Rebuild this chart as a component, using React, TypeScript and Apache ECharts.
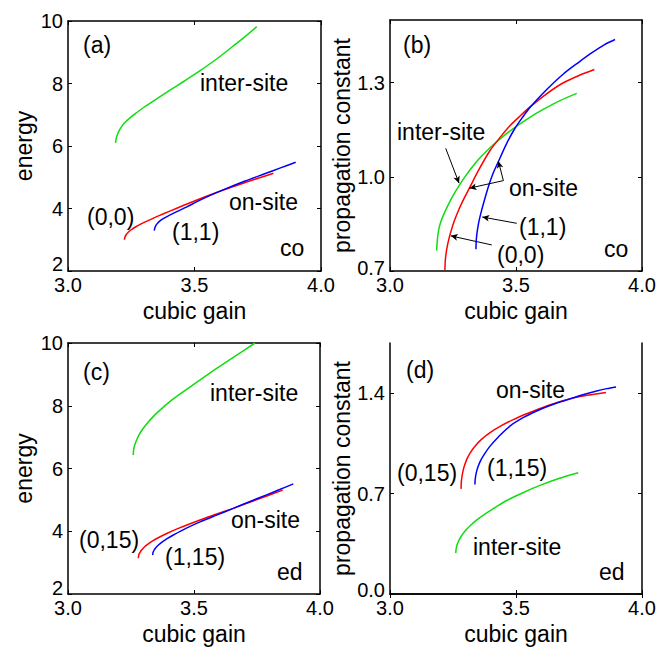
import React, { useEffect, useRef } from "react";
import * as echarts from "echarts";

// ---- Panel (a): energy vs cubic gain, "co"
const aInterGain = [3.188, 3.19, 3.195, 3.202, 3.212, 3.225, 3.245, 3.27, 3.3, 3.34, 3.4, 3.46, 3.522, 3.59, 3.653, 3.7, 3.746];
const aInterEnergy = [6.1, 6.22, 6.36, 6.49, 6.62, 6.75, 6.9, 7.06, 7.24, 7.45, 7.77, 8.08, 8.41, 8.8, 9.2, 9.5, 9.82];
const a00Gain = [3.223, 3.225, 3.23, 3.238, 3.25, 3.265, 3.285, 3.31, 3.34, 3.38, 3.43, 3.49, 3.55, 3.62, 3.7, 3.76, 3.812];
const a00Energy = [3.0, 3.08, 3.16, 3.24, 3.32, 3.4, 3.49, 3.59, 3.7, 3.84, 4.01, 4.21, 4.4, 4.61, 4.83, 4.99, 5.13];
const a11Gain = [3.341, 3.343, 3.347, 3.354, 3.365, 3.38, 3.4, 3.43, 3.47, 3.51, 3.56, 3.62, 3.7, 3.78, 3.84, 3.9];
const a11Energy = [3.29, 3.37, 3.45, 3.53, 3.61, 3.69, 3.78, 3.9, 4.05, 4.22, 4.41, 4.62, 4.88, 5.12, 5.3, 5.48];

// ---- Panel (b): propagation constant vs cubic gain, "co"
const bInterGain = [3.185, 3.188, 3.193, 3.2, 3.212, 3.228, 3.248, 3.271, 3.3, 3.331, 3.36, 3.397, 3.45, 3.503, 3.555, 3.608, 3.675, 3.741];
const bInterProp = [0.765, 0.8, 0.83, 0.853, 0.878, 0.906, 0.937, 0.968, 1.003, 1.036, 1.063, 1.093, 1.13, 1.162, 1.19, 1.215, 1.243, 1.266];
const b00Gain = [3.218, 3.219, 3.221, 3.225, 3.231, 3.241, 3.255, 3.275, 3.295, 3.315, 3.35, 3.397, 3.44, 3.476, 3.516, 3.556, 3.62, 3.688, 3.75, 3.811];
const b00Prop = [0.703, 0.728, 0.746, 0.769, 0.793, 0.824, 0.859, 0.899, 0.933, 0.964, 1.019, 1.084, 1.129, 1.163, 1.194, 1.223, 1.264, 1.3, 1.323, 1.342];
const b11Gain = [3.341, 3.342, 3.344, 3.348, 3.354, 3.364, 3.378, 3.39, 3.41, 3.437, 3.465, 3.496, 3.526, 3.556, 3.62, 3.688, 3.75, 3.8, 3.85, 3.893];
const b11Prop = [0.769, 0.794, 0.813, 0.836, 0.862, 0.895, 0.935, 0.968, 1.013, 1.061, 1.11, 1.155, 1.19, 1.222, 1.277, 1.328, 1.366, 1.395, 1.421, 1.438];

// ---- Panel (c): energy vs cubic gain, "ed"
const cInterGain = [3.259, 3.26, 3.262, 3.266, 3.272, 3.282, 3.296, 3.316, 3.34, 3.365, 3.41, 3.458, 3.52, 3.59, 3.665, 3.742];
const cInterEnergy = [6.43, 6.56, 6.66, 6.77, 6.9, 7.07, 7.25, 7.46, 7.67, 7.86, 8.17, 8.45, 8.8, 9.19, 9.59, 10.0];
const c015Gain = [3.279, 3.28, 3.282, 3.286, 3.292, 3.302, 3.316, 3.336, 3.36, 3.392, 3.44, 3.524, 3.59, 3.656, 3.75, 3.852];
const c015Energy = [3.14, 3.21, 3.27, 3.33, 3.4, 3.49, 3.58, 3.69, 3.8, 3.93, 4.1, 4.36, 4.55, 4.73, 5.01, 5.31];
const c115Gain = [3.336, 3.337, 3.339, 3.343, 3.349, 3.359, 3.373, 3.393, 3.418, 3.47, 3.524, 3.59, 3.656, 3.72, 3.788, 3.84, 3.894];
const c115Energy = [3.24, 3.31, 3.355, 3.415, 3.48, 3.56, 3.655, 3.765, 3.88, 4.1, 4.3, 4.515, 4.73, 4.94, 5.16, 5.33, 5.51];

// ---- Panel (d): propagation constant vs cubic gain, "ed"
const dInterGain = [3.261, 3.262, 3.264, 3.268, 3.274, 3.284, 3.298, 3.318, 3.342, 3.375, 3.42, 3.463, 3.53, 3.595, 3.67, 3.747];
const dInterProp = [0.285, 0.31, 0.329, 0.352, 0.376, 0.406, 0.439, 0.476, 0.513, 0.555, 0.606, 0.652, 0.708, 0.757, 0.805, 0.845];
const d015Gain = [3.282, 3.283, 3.285, 3.289, 3.295, 3.305, 3.319, 3.339, 3.363, 3.397, 3.44, 3.489, 3.55, 3.622, 3.69, 3.754, 3.81, 3.857];
const d015Prop = [0.733, 0.78, 0.812, 0.852, 0.892, 0.94, 0.986, 1.034, 1.078, 1.125, 1.172, 1.216, 1.262, 1.311, 1.35, 1.377, 1.393, 1.405];
const d115Gain = [3.337, 3.338, 3.34, 3.344, 3.35, 3.36, 3.374, 3.397, 3.43, 3.476, 3.53, 3.582, 3.635, 3.688, 3.755, 3.82, 3.86, 3.897];
const d115Prop = [0.763, 0.798, 0.824, 0.857, 0.891, 0.932, 0.974, 1.031, 1.095, 1.171, 1.231, 1.276, 1.314, 1.346, 1.384, 1.416, 1.432, 1.444];

// ---- Axis ticks
const gainTicks = [3.0, 3.5, 4.0];
const energyTicks = [2, 4, 6, 8, 10];
const propTicksB = [0.7, 1.0, 1.3];
const propTicksD = [0.0, 0.7, 1.4];

// ---- Arrows in panel (b): [fromGain, fromProp, toGain, toProp]
const bArrows = [
  [3.221, 1.091, 3.274, 0.98], // inter-site
  [3.45, 0.988, 3.315, 0.964], // on-site -> red
  [3.45, 0.988, 3.43, 1.05], // on-site -> blue
  [3.503, 0.852, 3.366, 0.872], // (1,1)
  [3.404, 0.783, 3.241, 0.812], // (0,0)
];

const FONT = "'Liberation Sans', Arial, sans-serif";
const GREEN = "#10dd10";
const RED = "#ff0000";
const BLUE = "#0000ff";

const zip = (xs: number[], ys: number[]) => xs.map((x, i) => [x, ys[i]]);

export default function App() {
  const ref = useRef<HTMLDivElement>(null);

  useEffect(() => {
    if (!ref.current) return;
    const chart = echarts.init(ref.current, undefined, { renderer: "svg" });

    const grids = [
      { left: 68, top: 21, width: 253, height: 250 },
      { left: 390, top: 20, width: 252, height: 251 },
      { left: 68, top: 343, width: 252, height: 251 },
      { left: 390, top: 343, width: 252, height: 251 },
    ];

    // lift: bottom padding of the lowest label (raises it by half this)
    const yConf = [
      { min: 2, max: 10, ticks: energyTicks, name: "energy", lift: 14, fmt: (v: number) => String(v) },
      { min: 0.7, max: 1.5, ticks: propTicksB, name: "propagation constant", lift: 6, fmt: (v: number) => v.toFixed(1) },
      { min: 2, max: 10, ticks: energyTicks, name: "energy", lift: 12, fmt: (v: number) => String(v) },
      { min: 0, max: 1.75, ticks: propTicksD, name: "propagation constant", lift: 8, fmt: (v: number) => v.toFixed(1) },
    ];

    const axisLine = { show: true, lineStyle: { color: "#000", width: 1.5 } };
    const tickStyle = { inside: true, length: 4, lineStyle: { color: "#000", width: 1 } };

    const xAxis: any[] = [];
    const yAxis: any[] = [];
    grids.forEach((_, i) => {
      xAxis.push({
        type: "value",
        gridIndex: i,
        position: "bottom",
        min: 3,
        max: 4,
        axisLine,
        axisTick: { ...tickStyle, customValues: gainTicks },
        axisLabel: {
          customValues: gainTicks,
          formatter: (v: number) => v.toFixed(1),
          color: "#000",
          fontSize: 20,
          lineHeight: 16,
          fontFamily: FONT,
          margin: 6,
        },
        splitLine: { show: false },
        name: "cubic gain",
        nameLocation: "middle",
        nameGap: 28,
        nameTextStyle: { color: "#000", fontSize: 23, fontFamily: FONT },
      });
      xAxis.push({
        type: "value",
        gridIndex: i,
        position: "top",
        min: 3,
        max: 4,
        axisLine,
        axisTick: { ...tickStyle, customValues: gainTicks },
        axisLabel: { show: false },
        splitLine: { show: false },
      });
      const yc = yConf[i];
      yAxis.push({
        type: "value",
        gridIndex: i,
        position: "left",
        min: yc.min,
        max: yc.max,
        axisLine,
        axisTick: { ...tickStyle, customValues: yc.ticks },
        axisLabel: {
          customValues: yc.ticks,
          formatter: (v: number) =>
            Math.abs(v - yc.min) < 1e-9 && yc.lift > 0 ? `{lo|${yc.fmt(v)}}` : yc.fmt(v),
          rich: {
            lo: {
              color: "#000",
              fontSize: 20,
              fontFamily: FONT,
              lineHeight: 14,
              padding: [0, 0, yc.lift, 0],
            },
          },
          color: "#000",
          fontSize: 20,
          lineHeight: 12,
          fontFamily: FONT,
          margin: 5,
        },
        splitLine: { show: false },
        name: yc.name,
        nameLocation: "middle",
        nameGap: 33,
        nameTextStyle: { color: "#000", fontSize: 23, fontFamily: FONT },
      });
      yAxis.push({
        type: "value",
        gridIndex: i,
        position: "right",
        min: yc.min,
        max: yc.max,
        axisLine,
        axisTick: { ...tickStyle, customValues: yc.ticks },
        axisLabel: { show: false },
        splitLine: { show: false },
      });
    });

    const line = (name: string, panel: number, xs: number[], ys: number[], color: string, extra: any = {}) => ({
      type: "line",
      name,
      xAxisIndex: panel * 2,
      yAxisIndex: panel * 2,
      data: zip(xs, ys),
      showSymbol: false,
      symbol: "none",
      smooth: 0.3,
      lineStyle: { color, width: 1.5 },
      itemStyle: { color },
      ...extra,
    });

    const arrowMarks = {
      markLine: {
        silent: true,
        symbol: ["none", "arrow"],
        symbolSize: [5, 7],
        label: { show: false },
        lineStyle: { color: "#000", width: 1, type: "solid" },
        emphasis: { disabled: true },
        data: bArrows.map((a) => [{ coord: [a[0], a[1]] }, { coord: [a[2], a[3]] }]),
      },
    };

    const series = [
      line("(a) inter-site", 0, aInterGain, aInterEnergy, GREEN),
      line("(a) (0,0)", 0, a00Gain, a00Energy, RED),
      line("(a) (1,1)", 0, a11Gain, a11Energy, BLUE),
      line("(b) inter-site", 1, bInterGain, bInterProp, GREEN, arrowMarks),
      line("(b) (0,0)", 1, b00Gain, b00Prop, RED),
      line("(b) (1,1)", 1, b11Gain, b11Prop, BLUE),
      line("(c) inter-site", 2, cInterGain, cInterEnergy, GREEN),
      line("(c) (0,15)", 2, c015Gain, c015Energy, RED),
      line("(c) (1,15)", 2, c115Gain, c115Energy, BLUE),
      line("(d) inter-site", 3, dInterGain, dInterProp, GREEN),
      line("(d) (0,15)", 3, d015Gain, d015Prop, RED),
      line("(d) (1,15)", 3, d115Gain, d115Prop, BLUE),
    ];

    const t = (text: string, x: number, y: number) => ({
      type: "text",
      x,
      y,
      style: {
        text,
        fill: "#000",
        font: `23px ${FONT}`,
        textAlign: "left",
        textVerticalAlign: "middle",
      },
      silent: true,
    });

    const graphic = [
      t("(a)", 83, 45),
      t("inter-site", 200, 83),
      t("on-site", 229, 202),
      t("(0,0)", 87, 217),
      t("(1,1)", 172, 232),
      t("co", 280, 248),

      t("(b)", 403, 45),
      t("inter-site", 397, 132),
      t("on-site", 509, 188),
      t("(1,1)", 519, 227),
      t("(0,0)", 497, 255),
      t("co", 604, 249),

      t("(c)", 83, 372),
      t("inter-site", 210, 393),
      t("on-site", 231, 520),
      t("(0,15)", 79, 540),
      t("(1,15)", 165, 557),
      t("ed", 277, 572),

      t("(d)", 406, 370),
      t("on-site", 496, 390),
      t("(0,15)", 397, 473),
      t("(1,15)", 487, 468),
      t("inter-site", 473, 547),
      t("ed", 599, 572),
    ];

    chart.setOption({
      animation: false,
      backgroundColor: "#fff",
      textStyle: { fontFamily: FONT },
      grid: grids.map((g) => ({ ...g, containLabel: false })),
      xAxis,
      yAxis,
      series,
      graphic,
    });

    return () => chart.dispose();
  }, []);

  return (
    <div
      ref={ref}
      style={{ position: "absolute", left: 0, top: 0, width: 669, height: 653, background: "#fff" }}
    />
  );
}
